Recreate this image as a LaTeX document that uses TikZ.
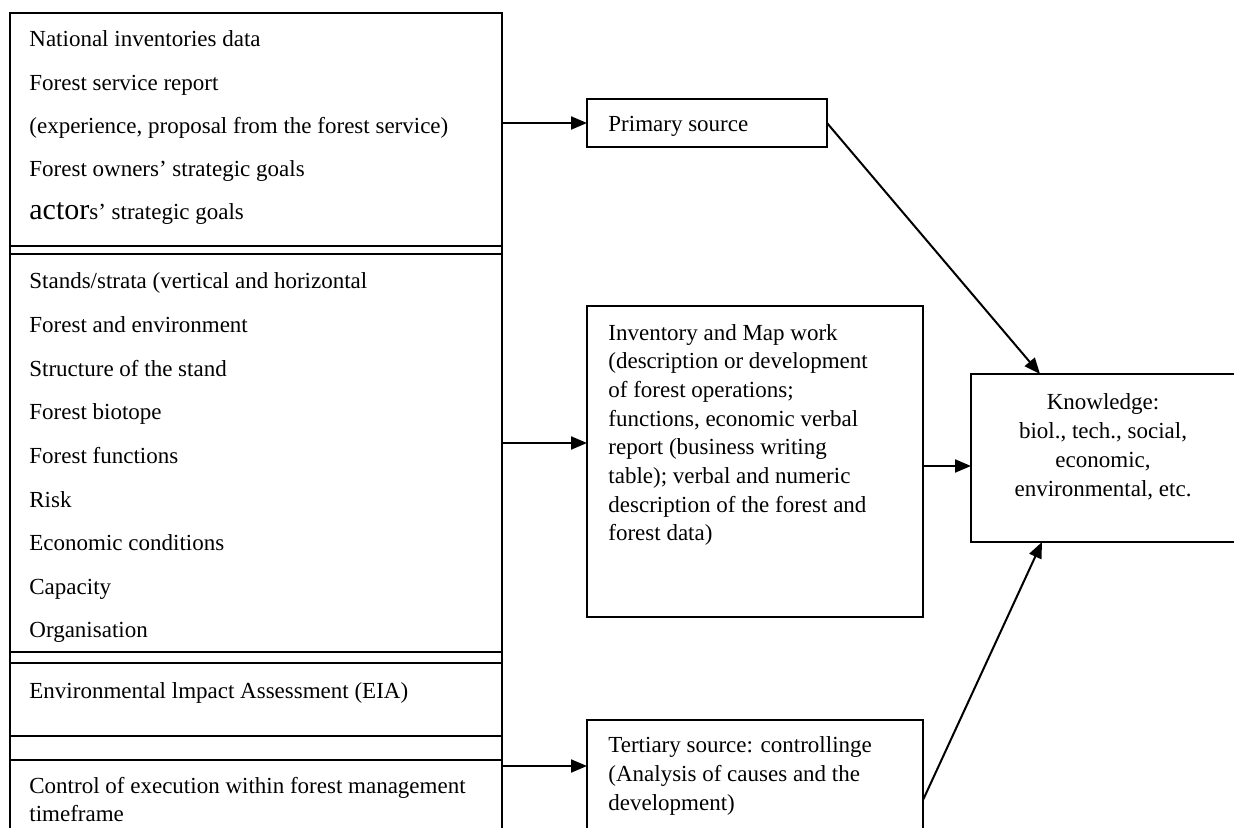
\documentclass[tikz,border=0pt]{standalone}
\usepackage{fontspec}
\setmainfont{Liberation Serif}
\usetikzlibrary{arrows.meta,fit}
\begin{document}
\begin{tikzpicture}[x=0.5pt,y=-0.5pt,
  box/.style={draw,line width=1pt,rectangle,inner sep=0pt,outer sep=0pt},
  txt/.style={inner sep=0pt,anchor=base west,font=\fontsize{11.5}{13.8}\selectfont},
  ctxt/.style={txt,anchor=base},
  arr/.style={line width=1pt,-{Triangle[length=8pt,width=6.5pt]}},
  ln/.style={line width=1pt}]
\clip (0,0) rectangle (1234,828);
\fill[white] (0,0) rectangle (1234,828);
% left table
\node[box,fit={(10,13) (502,246)}] (s1) {};
\node[box,fit={(10,254) (502,652)}] (s2) {};
\node[box,fit={(10,663) (502,736)}] (s3) {};
\node[box,fit={(10,736) (502,760)}] (s4) {};
\node[box,fit={(10,760) (502,860)}] (s5) {};
\draw[ln] (s1.north west) -- (s5.south west);
\draw[ln] (s1.north east) -- (s5.south east);
% right boxes
\node[box,fit={(587,99) (827,147)}] (prim) {};
\node[box,fit={(587,306) (923,617)}] (inv) {};
\node[box,fit={(971,374) (1250,542)}] (know) {};
\node[box,fit={(587,720) (923,860)}] (tert) {};
% texts, section 1
\foreach \t [count=\i from 0] in {{National inventories data}, {Forest service report},
  {(experience, proposal from the forest service)}, {Forest owners’ strategic goals}}
  \node[txt] (l1-\i) at (29,47+43.2*\i) {\t};
\node[txt] (l1-4) at (29,220) {{\fontsize{15}{15}\selectfont actor}s’ strategic goals};
% section 2
\foreach \t [count=\i from 0] in {{Stands/strata (vertical and horizontal}, {Forest and environment},
  {Structure of the stand}, {Forest biotope}, {Forest functions}, {Risk}, {Economic conditions},
  {Capacity}, {Organisation}}
  \node[txt] (l2-\i) at (29,289+43.6*\i) {\t};
\node[txt] (l3) at (29,698) {Environmental lmpact Assessment (EIA)};
\node[txt] (l5a) at (29,793) {Control of execution within forest management};
\node[txt] (l5b) at (29,821) {timeframe};
% right texts
\node[txt] (pt) at (608,132) {Primary source};
\foreach \t [count=\i from 0] in {{Inventory and Map work}, {(description or development},
  {of forest operations;}, {functions, economic verbal}, {report (business writing},
  {table); verbal and numeric}, {description of the forest and}, {forest data)}}
  \node[txt] (it-\i) at (608,340+28.7*\i) {\t};
\foreach \t [count=\i from 0] in {{Knowledge:}, {biol., tech., social,}, {economic,},
  {environmental, etc.}}
  \node[ctxt] (kt-\i) at (1103,409+29*\i) {\t};
\foreach \t [count=\i from 0] in {{Tertiary source: controllinge},
  {(Analysis of causes and the}, {development)}}
  \node[txt] (tt-\i) at (608,752+29*\i) {\t};
% connectors
\coordinate (a2) at (502,443);
\coordinate (a3) at (923,466);
\coordinate (a4) at (502,766);
\coordinate (k1) at (1040,374);
\coordinate (k2) at (1042,542);
\coordinate (t1) at (923,800);
\draw[arr] (s1.east |- prim.west) -- (prim.west);
\draw[arr] (a2) -- (a2 -| inv.west);
\draw[arr] (a3) -- (a3 -| know.west);
\draw[arr] (a4) -- (a4 -| tert.west);
\draw[arr] (prim.east) -- (k1);
\draw[arr] (t1) -- (k2);
\end{tikzpicture}
\end{document}
